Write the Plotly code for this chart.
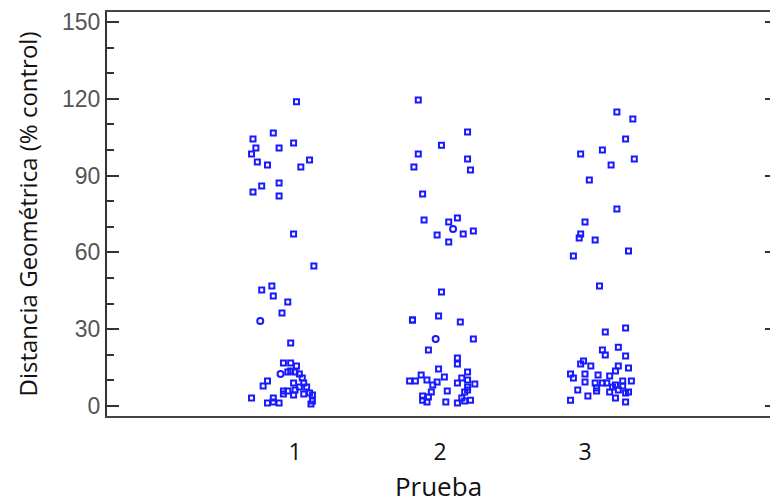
import plotly.graph_objects as go

# Prueba groups and their horizontal jitter (in category units) with measured values
grupos = [1, 2, 3]

jitter_1 = [0.01, -0.15, -0.29, -0.27, -0.30, -0.11, -0.01, -0.26, -0.19, 0.10, 0.04,
            -0.29, -0.23, -0.11, -0.11, -0.01, 0.13, -0.23, -0.16, -0.15, -0.05, -0.09,
            -0.03, -0.08, -0.03, 0.01, -0.03, 0.00, -0.05, 0.03, 0.05, -0.19, -0.22,
            -0.01, 0.06, 0.03, 0.08, -0.08, -0.05, -0.08, -0.01, 0.06, 0.10, 0.12,
            -0.30, -0.15, -0.19, -0.15, -0.11, 0.12, 0.11, 0.00]
valores_1 = [118.8, 106.6, 104.3, 100.8, 98.4, 100.8, 102.7, 95.3, 94.1, 96.1, 93.4,
             83.6, 85.9, 87.1, 82.0, 67.2, 54.7, 45.3, 46.9, 43.0, 40.6, 36.3,
             24.6, 16.8, 16.8, 15.6, 13.7, 13.3, 13.3, 12.5, 10.9, 9.8, 7.8,
             9.0, 9.0, 7.4, 7.4, 5.9, 5.9, 4.7, 4.3, 4.7, 5.1, 4.3,
             3.1, 3.1, 1.2, 1.6, 1.2, 2.0, 0.8, 6.3]

jitter_2 = [-0.15, 0.19, 0.01, -0.15, 0.19, -0.18, 0.21, -0.12, -0.11, 0.12, 0.06,
            -0.02, 0.16, 0.23, 0.06, 0.01, -0.19, -0.01, 0.14, 0.23, -0.08, 0.12,
            0.12, -0.01, 0.19, -0.13, 0.03, -0.21, -0.17, -0.09, -0.02, 0.15, 0.19,
            0.24, 0.12, -0.05, 0.19, -0.06, 0.05, 0.19, -0.12, -0.08, -0.12, -0.09,
            0.04, 0.12, 0.17, 0.15, 0.21, 0.17, -0.19]
valores_2 = [119.5, 107.0, 101.9, 98.4, 96.5, 93.4, 92.2, 82.8, 72.7, 73.4, 71.9,
             66.8, 67.2, 68.4, 64.1, 44.5, 33.6, 35.2, 32.8, 26.2, 21.9, 18.8,
             16.4, 14.5, 13.3, 12.1, 11.3, 9.8, 9.8, 10.2, 9.4, 10.9, 10.2,
             8.6, 9.0, 8.2, 7.4, 5.5, 5.9, 6.3, 3.9, 3.5, 2.3, 1.6,
             1.6, 1.2, 2.0, 3.1, 2.3, 5.5, 33.6]

jitter_3 = [0.22, 0.33, 0.28, -0.03, 0.12, 0.34, 0.18, 0.03, 0.22, 0.00, -0.03,
            -0.04, 0.07, -0.08, 0.30, 0.10, 0.14, 0.28, 0.12, 0.23, 0.14, 0.28,
            -0.03, -0.01, 0.04, 0.23, 0.30, 0.21, -0.10, 0.00, 0.09, 0.17,
            -0.08, 0.00, 0.26, 0.32, 0.07, 0.12, 0.15, 0.21, 0.26, 0.08, 0.19,
            -0.05, 0.17, 0.23, 0.30, 0.28, 0.08, 0.02, 0.21, -0.10, 0.28]
valores_3 = [114.8, 112.1, 104.3, 98.4, 100.0, 96.5, 94.1, 88.3, 77.0, 71.9, 67.2,
             65.6, 64.8, 58.6, 60.5, 46.9, 28.9, 30.5, 21.9, 23.0, 19.9, 19.5,
             16.4, 17.6, 15.6, 15.6, 14.8, 13.7, 12.5, 12.5, 12.1, 11.7,
             10.9, 9.4, 9.8, 9.8, 9.0, 9.0, 9.0, 8.2, 7.8, 7.0, 7.4,
             6.3, 5.5, 6.3, 5.5, 5.1, 5.9, 3.9, 3.1, 2.3, 1.6]

# A few observations drawn as open circles
circ_grupo = [1, 1, 2, 2]
circ_jitter = [-0.24, -0.10, 0.09, -0.03]
circ_valores = [33.2, 12.5, 69.1, 26.2]

AZUL = "rgb(25,25,255)"

fig = go.Figure()
for g, jit, vals in zip(grupos, [jitter_1, jitter_2, jitter_3],
                        [valores_1, valores_2, valores_3]):
    fig.add_trace(go.Scatter(
        x=[g + j for j in jit], y=vals, mode="markers",
        marker=dict(symbol="square-open", size=5, color=AZUL,
                    line=dict(width=2, color=AZUL)),
        showlegend=False, hoverinfo="skip"))

fig.add_trace(go.Scatter(
    x=[g + j for g, j in zip(circ_grupo, circ_jitter)], y=circ_valores,
    mode="markers",
    marker=dict(symbol="circle-open", size=6, color=AZUL,
                line=dict(width=2, color=AZUL)),
    showlegend=False, hoverinfo="skip"))

# Invisible trace carrying the right-hand tick marks
fig.add_trace(go.Scatter(x=[None], y=[None], yaxis="y2", showlegend=False))

y_rango = [-3.9, 153.9]
fig.update_layout(
    width=770, height=504,
    margin=dict(l=107, r=0, t=12, b=88),
    paper_bgcolor="white", plot_bgcolor="white",
    xaxis=dict(
        range=[-0.297, 4.276], tickvals=grupos, ticktext=[str(g) for g in grupos],
        showgrid=False, zeroline=False, ticks="",
        showline=True, mirror=True, linecolor="#444", linewidth=2,
        ticklabelstandoff=14,
        tickfont=dict(family="Open Sans", size=23, color="#111"),
        title=dict(text="Prueba", standoff=12,
                   font=dict(family="Open Sans", size=26, color="#111")),
    ),
    yaxis=dict(
        range=y_rango, tickvals=[0, 30, 60, 90, 120, 150],
        showgrid=False, zeroline=False,
        ticks="inside", ticklen=12, tickwidth=2, tickcolor="#333",
        minor=dict(dtick=10, tick0=0, ticks="inside", ticklen=7,
                   tickwidth=2, tickcolor="#333"),
        showline=True, linecolor="#333", linewidth=2,
        tickfont=dict(family="Liberation Sans", size=23, color="#555"),
        title=dict(text="Distancia Geométrica (% control)", standoff=18,
                   font=dict(family="Open Sans", size=24, color="#111")),
    ),
    yaxis2=dict(
        range=y_rango, overlaying="y", side="right",
        tickvals=[0, 30, 60, 90, 120, 150], showticklabels=False,
        ticks="inside", ticklen=5, tickwidth=2, tickcolor="#333",
        showgrid=False, zeroline=False, showline=False,
    ),
)

fig.write_html("out.html")
